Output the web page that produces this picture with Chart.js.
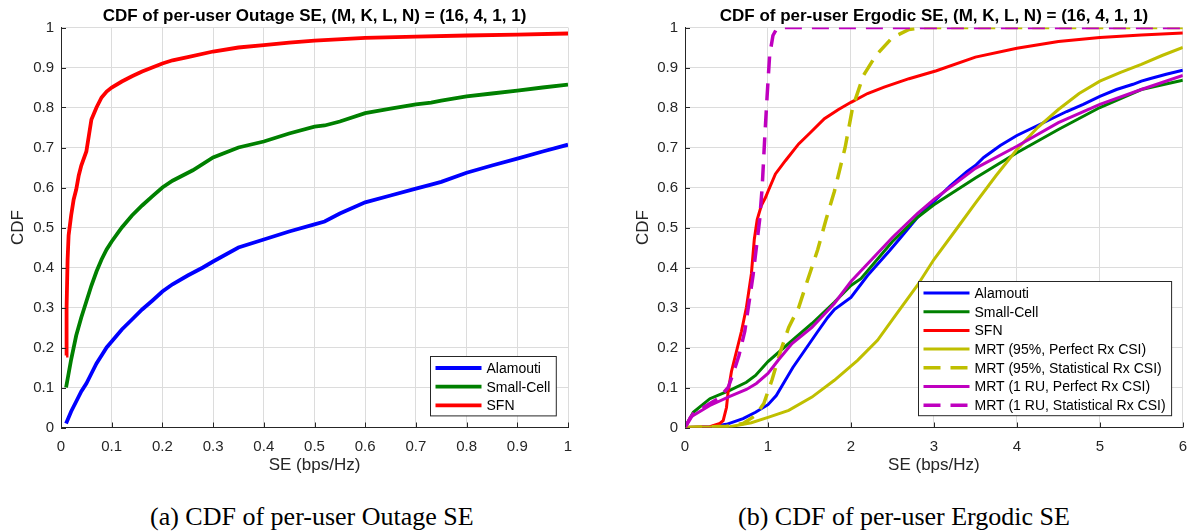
<!DOCTYPE html>
<html>
<head>
<meta charset="utf-8">
<script src="https://cdn.jsdelivr.net/npm/chart.js@4.4.1/dist/chart.umd.min.js"></script>
<style>
  body { margin: 0; background: #fff; width: 1197px; height: 531px; position: relative; overflow: hidden; }
  #leftBox { position: absolute; left: 0; top: 0; width: 600px; height: 480px; }
  #rightBox { position: absolute; left: 620px; top: 0; width: 577px; height: 480px; }
  .caption { position: absolute; top: 504px; font-family: 'Liberation Serif', 'Times New Roman', serif; font-size: 26px; line-height: 26px; color: #000; white-space: nowrap; }
</style>
</head>
<body>
<div id="leftBox"><canvas id="outageChart" width="600" height="480"></canvas></div>
<div id="rightBox"><canvas id="ergodicChart" width="577" height="480"></canvas></div>
<div class="caption" style="left:150px">(a) CDF of per-user Outage SE</div>
<div class="caption" style="left:738px">(b) CDF of per-user Ergodic SE</div>
<script>
// Tick labels
const cdfTicks = [0, 0.1, 0.2, 0.3, 0.4, 0.5, 0.6, 0.7, 0.8, 0.9, 1];
const outageTicks = [0, 0.1, 0.2, 0.3, 0.4, 0.5, 0.6, 0.7, 0.8, 0.9, 1];
const ergodicTicks = [0, 1, 2, 3, 4, 5, 6];

// (a) Outage SE
const outAlamoutiX = [0.01, 0.02, 0.03, 0.04, 0.05, 0.06, 0.07, 0.08, 0.09, 0.1, 0.12, 0.14, 0.16, 0.18, 0.2, 0.22, 0.25, 0.28, 0.3, 0.35, 0.4, 0.45, 0.5, 0.52, 0.55, 0.6, 0.65, 0.7, 0.73, 0.75, 0.8, 0.85, 0.9, 0.95, 1.0];
const outAlamoutiY = [0.01, 0.04, 0.065, 0.09, 0.11, 0.135, 0.16, 0.18, 0.2, 0.215, 0.245, 0.27, 0.295, 0.317, 0.34, 0.358, 0.38, 0.4, 0.415, 0.45, 0.47, 0.49, 0.508, 0.515, 0.535, 0.563, 0.58, 0.597, 0.607, 0.614, 0.637, 0.655, 0.672, 0.69, 0.707];
const outSmallCellX = [0.01, 0.02, 0.03, 0.04, 0.05, 0.06, 0.07, 0.08, 0.09, 0.1, 0.12, 0.14, 0.16, 0.18, 0.2, 0.22, 0.26, 0.3, 0.35, 0.4, 0.45, 0.5, 0.52, 0.55, 0.6, 0.65, 0.7, 0.73, 0.75, 0.8, 0.85, 0.9, 0.95, 1.0];
const outSmallCellY = [0.1, 0.17, 0.23, 0.275, 0.315, 0.355, 0.39, 0.42, 0.445, 0.465, 0.5, 0.53, 0.555, 0.578, 0.6, 0.617, 0.643, 0.675, 0.7, 0.715, 0.735, 0.752, 0.755, 0.765, 0.786, 0.797, 0.808, 0.812, 0.817, 0.828, 0.835, 0.842, 0.85, 0.857];
const outSfnX = [0.01, 0.011, 0.013, 0.015, 0.02, 0.025, 0.03, 0.035, 0.04, 0.05, 0.055, 0.06, 0.07, 0.08, 0.09, 0.1, 0.12, 0.14, 0.16, 0.18, 0.2, 0.22, 0.25, 0.3, 0.35, 0.4, 0.45, 0.5, 0.6, 0.7, 0.8, 0.9, 1.0];
const outSfnY = [0.18, 0.3, 0.42, 0.48, 0.53, 0.57, 0.595, 0.63, 0.655, 0.69, 0.73, 0.77, 0.8, 0.825, 0.84, 0.85, 0.865, 0.878, 0.89, 0.9, 0.91, 0.918, 0.926, 0.94, 0.95, 0.956, 0.962, 0.967, 0.974, 0.977, 0.98, 0.982, 0.985];

// (b) Ergodic SE
const ergAlamoutiX = [0, 0.3, 0.5, 0.7, 0.85, 1.0, 1.1, 1.2, 1.3, 1.4, 1.5, 1.6, 1.72, 1.8, 2.0, 2.2, 2.47, 2.6, 2.8, 3.0, 3.2, 3.4, 3.5, 3.6, 3.8, 4.0, 4.2, 4.4, 4.5, 4.6, 4.8, 5.0, 5.2, 5.4, 5.5, 5.6, 5.8, 6.0];
const ergAlamoutiY = [0, 0.002, 0.008, 0.022, 0.038, 0.057, 0.08, 0.115, 0.15, 0.18, 0.21, 0.24, 0.275, 0.295, 0.325, 0.38, 0.443, 0.475, 0.525, 0.565, 0.605, 0.64, 0.655, 0.675, 0.705, 0.73, 0.75, 0.77, 0.78, 0.79, 0.808, 0.828, 0.845, 0.858, 0.866, 0.872, 0.883, 0.893];
const ergSmallCellX = [0, 0.1, 0.3, 0.54, 0.74, 0.85, 1.0, 1.25, 1.53, 1.8, 2.0, 2.12, 2.5, 2.8, 3.0, 3.5, 4.0, 4.5, 5.0, 5.5, 6.0];
const ergSmallCellY = [0, 0.038, 0.072, 0.093, 0.113, 0.13, 0.165, 0.21, 0.26, 0.313, 0.355, 0.372, 0.465, 0.525, 0.557, 0.624, 0.687, 0.745, 0.8, 0.845, 0.868];
const ergSfnX = [0, 0.3, 0.42, 0.46, 0.5, 0.52, 0.56, 0.62, 0.68, 0.74, 0.8, 0.835, 0.87, 0.92, 0.97, 1.0, 1.09, 1.21, 1.37, 1.5, 1.68, 1.85, 2.0, 2.2, 2.4, 2.7, 3.03, 3.5, 4.0, 4.5, 5.0, 5.5, 6.0];
const ergSfnY = [0, 0.002, 0.01, 0.017, 0.05, 0.09, 0.14, 0.19, 0.24, 0.3, 0.384, 0.47, 0.52, 0.555, 0.575, 0.59, 0.634, 0.667, 0.709, 0.735, 0.772, 0.795, 0.813, 0.835, 0.851, 0.872, 0.892, 0.926, 0.948, 0.965, 0.975, 0.981, 0.986];
const ergMrt95PerfX = [0, 0.54, 0.8, 1.01, 1.25, 1.53, 1.8, 2.08, 2.32, 2.55, 2.8, 3.0, 3.25, 3.5, 3.75, 4.0, 4.25, 4.5, 4.75, 5.0, 5.25, 5.5, 5.75, 6.0];
const ergMrt95PerfY = [0, 0.002, 0.012, 0.026, 0.043, 0.076, 0.118, 0.168, 0.218, 0.284, 0.355, 0.42, 0.49, 0.561, 0.63, 0.695, 0.75, 0.795, 0.835, 0.866, 0.888, 0.908, 0.93, 0.95];
const ergMrt95StatX = [0, 0.5, 0.7, 0.85, 0.95, 1.05, 1.15, 1.25, 1.37, 1.48, 1.6, 1.7, 1.8, 1.93, 2.02, 2.15, 2.3, 2.5, 2.7, 2.9, 6.0];
const ergMrt95StatY = [0, 0.003, 0.01, 0.03, 0.06, 0.12, 0.19, 0.25, 0.3, 0.37, 0.445, 0.52, 0.59, 0.7, 0.8, 0.88, 0.93, 0.975, 0.995, 1.0, 1.0];
const ergMrt1PerfX = [0, 0.065, 0.3, 0.54, 0.74, 0.86, 1.0, 1.13, 1.29, 1.53, 1.8, 2.0, 2.5, 2.8, 3.0, 3.5, 4.0, 4.5, 5.0, 5.5, 6.0];
const ergMrt1PerfY = [0, 0.026, 0.055, 0.078, 0.095, 0.11, 0.135, 0.17, 0.21, 0.25, 0.31, 0.365, 0.475, 0.535, 0.57, 0.648, 0.703, 0.762, 0.808, 0.845, 0.88];
const ergMrt1StatX = [0, 0.1, 0.3, 0.4, 0.52, 0.58, 0.65, 0.72, 0.77, 0.82, 0.86, 0.9, 0.93, 0.96, 0.99, 1.02, 1.06, 1.1, 1.2, 6.0];
const ergMrt1StatY = [0, 0.035, 0.06, 0.072, 0.1, 0.135, 0.18, 0.24, 0.31, 0.38, 0.45, 0.52, 0.6, 0.72, 0.83, 0.93, 0.98, 0.995, 1.0, 1.0];

Chart.defaults.font.family = "'Liberation Sans', Arial, Helvetica, sans-serif";
const axisColor = '#262626';
const gridColor = '#dcdcdc';
const dashPattern = [17, 10];

// build one line dataset from an x array and a y array
function makeDataset(label, xs, ys, color, width, dash) {
    return {
        label: label,
        data: xs.map((x, i) => ({ x: x, y: ys[i] })),
        borderColor: color,
        backgroundColor: color,
        borderWidth: width,
        borderDash: dash || [],
        pointRadius: 0,
        tension: 0,
        fill: false
    };
}

// small inward tick marks like MATLAB axes
const inwardTicks = {
    id: 'inwardTicks',
    afterDatasetsDraw(chart) {
        const { ctx, chartArea: a, scales } = chart;
        ctx.save();
        ctx.strokeStyle = axisColor;
        ctx.lineWidth = 1;
        ctx.beginPath();
        scales.x.ticks.forEach(t => {
            const px = Math.round(scales.x.getPixelForValue(t.value)) + 0.5;
            ctx.moveTo(px, a.bottom);
            ctx.lineTo(px, a.bottom - 5);
        });
        scales.y.ticks.forEach(t => {
            const py = Math.round(scales.y.getPixelForValue(t.value)) + 0.5;
            ctx.moveTo(a.left, py);
            ctx.lineTo(a.left + 5, py);
        });
        ctx.stroke();
        ctx.restore();
    }
};

// legend box drawn inside the plot, bottom right
const boxLegend = {
    id: 'boxLegend',
    afterDraw(chart, args, opts) {
        const ctx = chart.ctx;
        const area = chart.chartArea;
        const sets = chart.data.datasets;
        ctx.save();
        ctx.font = "14px 'Liberation Sans', Arial, sans-serif";
        const textW = Math.max(...sets.map(d => ctx.measureText(d.label).width));
        const lineLen = 46, pad = 5, gap = 5, rowH = 18.7;
        const w = pad + lineLen + gap + textW + pad + 1;
        const h = 22 + (sets.length - 1) * rowH;
        const x0 = Math.round(area.right - opts.margin - w) + 0.5;
        const y0 = Math.round(area.bottom - opts.margin - h) + 0.5;
        ctx.fillStyle = '#fff';
        ctx.fillRect(x0, y0, w, h);
        ctx.strokeStyle = axisColor;
        ctx.lineWidth = 1;
        ctx.strokeRect(x0, y0, w, h);
        sets.forEach((d, i) => {
            const yy = y0 + 11.5 + i * rowH;
            ctx.beginPath();
            ctx.strokeStyle = d.borderColor;
            ctx.lineWidth = d.borderWidth;
            ctx.setLineDash(d.borderDash);
            ctx.moveTo(x0 + pad, yy);
            ctx.lineTo(x0 + pad + lineLen, yy);
            ctx.stroke();
            ctx.setLineDash([]);
            ctx.fillStyle = '#000';
            ctx.textBaseline = 'middle';
            ctx.textAlign = 'left';
            ctx.fillText(d.label, x0 + pad + lineLen + gap, yy + 1);
        });
        ctx.restore();
    }
};

// shared options for both panels
function makeOptions(titleText, xMax, xTicks, yWidth, yTitlePad, padRight) {
    return {
        responsive: false,
        animation: false,
        layout: { padding: { left: 0, right: padRight, top: 0, bottom: 0 } },
        scales: {
            x: {
                type: 'linear',
                min: 0,
                max: xMax,
                afterBuildTicks: s => { s.ticks = xTicks.map(v => ({ value: v })); },
                afterFit: s => { s.height = 52.5; },
                ticks: { color: axisColor, font: { size: 15 }, padding: 10, autoSkip: false, maxRotation: 0, callback: v => String(v) },
                grid: { color: gridColor, drawTicks: false },
                border: { color: axisColor, width: 1 },
                title: { display: true, text: 'SE (bps/Hz)', color: axisColor, font: { size: 17 }, padding: { top: 0, bottom: 4 } }
            },
            y: {
                type: 'linear',
                min: 0,
                max: 1,
                afterBuildTicks: s => { s.ticks = cdfTicks.map(v => ({ value: v })); },
                afterFit: s => { s.width = yWidth; },
                ticks: { color: axisColor, font: { size: 15 }, padding: 7, callback: v => String(v) },
                grid: { color: gridColor, drawTicks: false },
                border: { color: axisColor, width: 1 },
                title: { display: true, text: 'CDF', color: axisColor, font: { size: 17 }, padding: { top: yTitlePad, bottom: 0 } }
            }
        },
        plugins: {
            legend: { display: false },
            tooltip: { enabled: false },
            title: {
                display: true,
                fullSize: false,
                text: titleText,
                color: '#000',
                font: { size: 17, weight: 'bold' },
                padding: { top: 6, bottom: 1.1 }
            },
            boxLegend: { margin: 12 }
        }
    };
}

function withOrder(sets) {
    // later series drawn on top, as in the original plot
    sets.forEach((d, i) => { d.order = sets.length - i; });
    return sets;
}

function createOutageChart() {
    const ctx = document.getElementById('outageChart').getContext('2d');
    new Chart(ctx, {
        type: 'line',
        data: {
            datasets: withOrder([
                makeDataset('Alamouti', outAlamoutiX, outAlamoutiY, '#0000ff', 3.8),
                makeDataset('Small-Cell', outSmallCellX, outSmallCellY, '#008000', 3.8),
                makeDataset('SFN', outSfnX, outSfnY, '#ff0000', 3.8)
            ])
        },
        options: makeOptions('CDF of per-user Outage SE, (M, K, L, N) = (16, 4, 1, 1)', 1, outageTicks, 61, 8, 32),
        plugins: [inwardTicks, boxLegend]
    });
}

function createErgodicChart() {
    const ctx = document.getElementById('ergodicChart').getContext('2d');
    new Chart(ctx, {
        type: 'line',
        data: {
            datasets: withOrder([
                makeDataset('Alamouti', ergAlamoutiX, ergAlamoutiY, '#0000ff', 3),
                makeDataset('Small-Cell', ergSmallCellX, ergSmallCellY, '#008000', 3),
                makeDataset('SFN', ergSfnX, ergSfnY, '#ff0000', 3),
                makeDataset('MRT (95%, Perfect Rx CSI)', ergMrt95PerfX, ergMrt95PerfY, '#bfbf00', 3),
                makeDataset('MRT (95%, Statistical Rx CSI)', ergMrt95StatX, ergMrt95StatY, '#bfbf00', 3.5, dashPattern),
                makeDataset('MRT (1 RU, Perfect Rx CSI)', ergMrt1PerfX, ergMrt1PerfY, '#bf00bf', 3),
                makeDataset('MRT (1 RU, Statistical Rx CSI)', ergMrt1StatX, ergMrt1StatY, '#bf00bf', 3.5, dashPattern)
            ])
        },
        options: makeOptions('CDF of per-user Ergodic SE, (M, K, L, N) = (16, 4, 1, 1)', 6, ergodicTicks, 65, 13, 6),
        plugins: [inwardTicks, boxLegend]
    });
}

document.addEventListener('DOMContentLoaded', () => {
    createOutageChart();
    createErgodicChart();
});
</script>
</body>
</html>
